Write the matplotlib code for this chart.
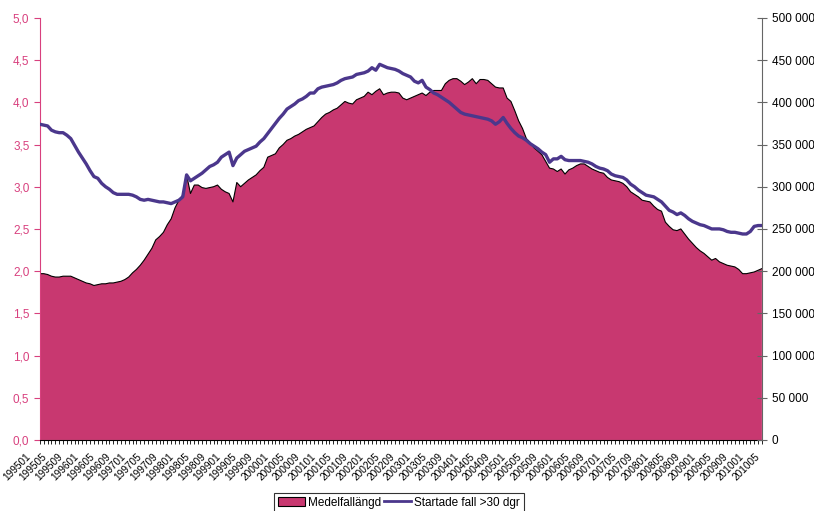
import numpy as np
import matplotlib.pyplot as plt
import matplotlib.transforms as mtransforms
from matplotlib.patches import Patch
from matplotlib.lines import Line2D
from matplotlib.ticker import FuncFormatter, MultipleLocator

plt.rcParams['font.family'] = ['Liberation Sans', 'DejaVu Sans']

# -----------------------------
# Data: monthly values 199501 - 201008
# -----------------------------
months = [f"{y}{m:02d}" for y in range(1995, 2011) for m in range(1, 13)][:188]

# Medelfallängd (left axis)
medel = [
    1.97, 1.97, 1.96, 1.94, 1.93, 1.93, 1.94, 1.94, 1.94, 1.92, 1.90, 1.88,  # 1995
    1.86, 1.85, 1.83, 1.84, 1.85, 1.85, 1.86, 1.86, 1.87, 1.88, 1.90, 1.93,  # 1996
    1.98, 2.02, 2.07, 2.13, 2.20, 2.27, 2.37, 2.41, 2.46, 2.55, 2.62, 2.75,  # 1997
    2.84, 2.90, 3.14, 2.92, 3.02, 3.02, 2.99, 2.98, 2.99, 3.00, 3.02, 2.97,  # 1998
    2.94, 2.92, 2.82, 3.05, 3.00, 3.04, 3.08, 3.11, 3.14, 3.19, 3.23, 3.35,  # 1999
    3.37, 3.39, 3.46, 3.50, 3.55, 3.57, 3.60, 3.62, 3.65, 3.68, 3.70, 3.72,  # 2000
    3.77, 3.82, 3.86, 3.88, 3.91, 3.93, 3.97, 4.01, 3.99, 3.98, 4.03, 4.05,  # 2001
    4.07, 4.12, 4.09, 4.13, 4.16, 4.09, 4.11, 4.12, 4.12, 4.11, 4.05, 4.03,  # 2002
    4.05, 4.07, 4.09, 4.11, 4.08, 4.12, 4.14, 4.14, 4.14, 4.22, 4.26, 4.28,  # 2003
    4.28, 4.25, 4.21, 4.24, 4.28, 4.22, 4.27, 4.27, 4.26, 4.22, 4.18, 4.17,  # 2004
    4.17, 4.05, 4.01, 3.90, 3.78, 3.69, 3.57, 3.52, 3.46, 3.42, 3.38, 3.30,  # 2005
    3.22, 3.21, 3.18, 3.21, 3.15, 3.20, 3.22, 3.25, 3.27, 3.27, 3.24, 3.21,  # 2006
    3.19, 3.17, 3.16, 3.11, 3.08, 3.07, 3.06, 3.04, 3.00, 2.94, 2.91, 2.88,  # 2007
    2.84, 2.83, 2.82, 2.77, 2.73, 2.71, 2.58, 2.53, 2.49, 2.48, 2.50, 2.44,  # 2008
    2.38, 2.33, 2.28, 2.24, 2.21, 2.17, 2.13, 2.15, 2.11, 2.09, 2.07, 2.06,  # 2009
    2.05, 2.02, 1.97, 1.97, 1.98, 1.99, 2.01, 2.03,                          # 2010
]

# Startade fall >30 dgr (right axis), thousands
startade_k = [
    374, 373, 372, 367, 365, 364, 364, 361, 357, 349, 341, 334,  # 1995
    327, 319, 312, 310, 304, 300, 297, 293, 291, 291, 291, 291,  # 1996
    290, 288, 285, 284, 285, 284, 283, 282, 282, 281, 280, 282,  # 1997
    284, 288, 314, 307, 310, 313, 316, 320, 324, 326, 329, 335,  # 1998
    338, 341, 325, 334, 338, 342, 344, 346, 348, 353, 357, 363,  # 1999
    369, 375, 381, 386, 392, 395, 398, 402, 404, 407, 411, 411,  # 2000
    416, 418, 419, 420, 421, 423, 426, 428, 429, 430, 433, 434,  # 2001
    435, 437, 441, 438, 445, 443, 441, 440, 439, 437, 434, 432,  # 2002
    430, 425, 423, 426, 418, 415, 411, 409, 406, 403, 400, 396,  # 2003
    392, 388, 386, 385, 384, 383, 382, 381, 380, 378, 374, 377,  # 2004
    382, 375, 369, 364, 360, 358, 355, 351, 348, 345, 341, 338,  # 2005
    329, 333, 333, 336, 332, 331, 331, 331, 331, 330, 329, 327,  # 2006
    324, 322, 321, 319, 315, 313, 312, 311, 308, 303, 300, 296,  # 2007
    293, 290, 289, 288, 285, 282, 277, 272, 270, 267, 269, 266,  # 2008
    262, 259, 257, 255, 254, 252, 250, 250, 250, 249, 247, 246,  # 2009
    246, 245, 244, 244, 247, 253, 254, 254,                      # 2010
]
startade = np.array(startade_k) * 1000

pink = "#C83870"
pink_txt = "#D8407E"
purple = "#4B378C"

x = np.arange(len(months))

# -----------------------------
# Plot
# -----------------------------
fig = plt.figure(figsize=(8.14, 5.11), dpi=100)
ax = fig.add_axes([0.049, 0.139, 0.887, 0.826])

ax.fill_between(x, medel, facecolor=pink, linewidth=0)
ax.plot(x, medel, color="black", linewidth=0.8)
ax.set_xlim(0, len(months) - 1)
ax.set_ylim(0, 5)
ax.yaxis.set_major_locator(MultipleLocator(0.5))
ax.yaxis.set_major_formatter(FuncFormatter(lambda v, p: f"{v:.1f}".replace(".", ",")))
ax.tick_params(axis="y", colors=pink_txt, labelsize=8.5, length=4, direction="out")
ax.spines["left"].set_color(pink_txt)
ax.spines["top"].set_visible(False)
ax.spines["right"].set_visible(False)

ax.set_xticks(x[::4])
ax.set_xticklabels(months[::4], rotation=45, ha="right", rotation_mode="anchor", fontsize=7.3)
ax.set_xticks(x, minor=True)
ax.tick_params(axis="x", which="both", length=3, width=0.6, direction="out", pad=5)

# Excel spreads the rotated labels slightly wider than the ticks (shift in pixels)
labs = ax.get_xticklabels()
n = len(labs)
for k, lab in enumerate(labs):
    dx = (-14 + 18 * k / (n - 1)) / fig.dpi
    lab.set_transform(lab.get_transform() +
                      mtransforms.ScaledTranslation(dx, 0, fig.dpi_scale_trans))

ax2 = ax.twinx()
ax2.plot(x, startade, color=purple, linewidth=2.4)
ax2.set_ylim(0, 500000)
ax2.yaxis.set_major_locator(MultipleLocator(50000))
ax2.yaxis.set_major_formatter(FuncFormatter(lambda v, p: f"{int(v):,}".replace(",", " ")))
ax2.tick_params(axis="y", labelsize=8.5, length=7, direction="inout", color="#666666")
ax2.spines["right"].set_color("#666666")
ax2.spines["top"].set_visible(False)
ax2.spines["left"].set_visible(False)
ax2.spines["bottom"].set_visible(False)

handles = [Patch(facecolor=pink, edgecolor="black", linewidth=0.8),
           Line2D([], [], color=purple, linewidth=2)]
leg = fig.legend(handles, ["Medelfallängd", "Startade fall >30 dgr"],
                 loc="upper center", bbox_to_anchor=(0.49, 0.035), ncol=2,
                 fontsize=8.5, frameon=True, fancybox=False, edgecolor="black",
                 handlelength=2.3, handleheight=0.9, handletextpad=0.25,
                 columnspacing=0.3, borderaxespad=0, borderpad=0.3)
leg.get_frame().set_linewidth(0.8)

fig.savefig("out.png", dpi=100)
